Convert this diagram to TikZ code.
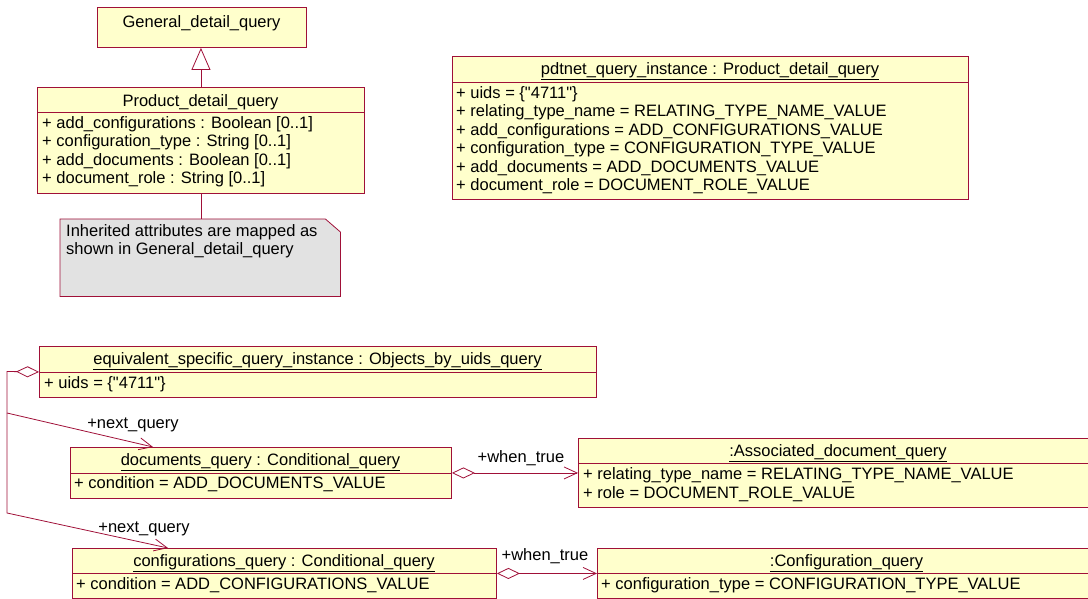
\documentclass[tikz,border=0pt]{standalone}
\usepackage{fontspec}
\setmainfont{Liberation Sans}[Ligatures=TeXOff]
\usetikzlibrary{arrows.meta,calc}
\definecolor{umlred}{RGB}{160,16,56}
\definecolor{umlfill}{RGB}{255,255,204}
\definecolor{notefill}{RGB}{226,226,226}
\begin{document}
\begin{tikzpicture}[x=1pt,y=-1pt,
  font=\fontsize{16.5}{18.4}\selectfont,
  umlbox/.style={draw=umlred, fill=umlfill, line width=0.9pt, rectangle, inner sep=0pt, anchor=north west},
  notebox/.style={rectangle, inner sep=0pt, anchor=north west},
  divline/.style={draw=umlred, line width=0.9pt},
  txt/.style={inner sep=0pt, anchor=base west, text=black},
  hdr/.style={inner sep=0pt, anchor=base, text=black},
  conn/.style={draw=umlred, line width=0.8pt},
  openarrow/.style={conn, -{Straight Barb[length=13pt,width=12pt]}},
  aggr/.style={conn, {Diamond[fill=white,length=23pt,width=11pt]}-},
  aggrarrow/.style={conn, {Diamond[fill=white,length=23pt,width=11pt]}-{Straight Barb[length=13pt,width=12pt]}},
  genarrow/.style={conn, -{Triangle[fill=white,length=22pt,width=19pt]}}
]
\useasboundingbox (0,0) rectangle (1088,599);
\clip (0,0) rectangle (1088,599);

% ---------- boxes ----------
\node[umlbox, minimum width=209pt, minimum height=40pt] (gen) at (97,7) {};
\node[umlbox, minimum width=327pt, minimum height=106pt] (prod) at (37,87) {};
\draw[divline] (prod.west |- 0,112) -- (prod.east |- 0,112);

\node[notebox, minimum width=280pt, minimum height=77pt] (note) at (60,219) {};
\draw[conn, fill=notefill] (note.north west) -- ($(note.north east)+(-15,0)$) -- ($(note.north east)+(0,13)$) -- (note.south east) -- (note.south west) -- cycle;

\node[umlbox, minimum width=516pt, minimum height=143pt] (pdt) at (452,56) {};
\draw[divline] (pdt.west |- 0,82) -- (pdt.east |- 0,82);

\node[umlbox, minimum width=557pt, minimum height=51pt] (esq) at (39,346) {};
\draw[divline] (esq.west |- 0,372) -- (esq.east |- 0,372);

\node[umlbox, minimum width=381pt, minimum height=51pt] (docs) at (70,447) {};
\draw[divline] (docs.west |- 0,473) -- (docs.east |- 0,473);

\node[umlbox, minimum width=520pt, minimum height=69pt] (assoc) at (578,438) {};
\draw[divline] (assoc.west |- 0,463) -- (assoc.east |- 0,463);

\node[umlbox, minimum width=424pt, minimum height=50pt] (confq) at (72,548) {};
\draw[divline] (confq.west |- 0,573) -- (confq.east |- 0,573);

\node[umlbox, minimum width=500pt, minimum height=50pt] (conf) at (597,548) {};
\draw[divline] (conf.west |- 0,573) -- (conf.east |- 0,573);

% ---------- texts ----------
\node[hdr] (g0) at (201.5,27.5) {General\_detail\_query};

\node[hdr] (p0) at (200.5,106.5) {Product\_detail\_query};
\node[txt] (p1) at (42,128.5) {+ add\_configurations : Boolean [0..1]};
\node[txt] (p2) at (42,146.5) {+ configuration\_type : String [0..1]};
\node[txt] (p3) at (42,165.5) {+ add\_documents : Boolean [0..1]};
\node[txt] (p4) at (42,183.5) {+ document\_role : String [0..1]};

\node[txt] (n1) at (66,236.5) {Inherited attributes are mapped as};
\node[txt] (n2) at (66,254.5) {shown in General\_detail\_query};

\node[hdr] (d0) at (710,74.5) {\underline{pdtnet\_query\_instance : Product\_detail\_query}};
\node[txt] (d1) at (456,98.5) {+ uids = \{"4711"\}};
\node[txt] (d2) at (456,116.5) {+ relating\_type\_name = RELATING\_TYPE\_NAME\_VALUE};
\node[txt] (d3) at (456,135.5) {+ add\_configurations = ADD\_CONFIGURATIONS\_VALUE};
\node[txt] (d4) at (456,153.5) {+ configuration\_type = CONFIGURATION\_TYPE\_VALUE};
\node[txt] (d5) at (456,172.5) {+ add\_documents = ADD\_DOCUMENTS\_VALUE};
\node[txt] (d6) at (456,190.5) {+ document\_role = DOCUMENT\_ROLE\_VALUE};

\node[hdr] (e0) at (317.5,364.5) {\underline{equivalent\_specific\_query\_instance : Objects\_by\_uids\_query}};
\node[txt] (e1) at (44,388.5) {+ uids = \{"4711"\}};

\node[hdr] (q0) at (260.5,465.5) {\underline{documents\_query : Conditional\_query}};
\node[txt] (q1) at (74,488.5) {+ condition = ADD\_DOCUMENTS\_VALUE};

\node[hdr] (a0) at (838,456.5) {\underline{:Associated\_document\_query}};
\node[txt] (a1) at (583,479.5) {+ relating\_type\_name = RELATING\_TYPE\_NAME\_VALUE};
\node[txt] (a2) at (583,498.5) {+ role = DOCUMENT\_ROLE\_VALUE};

\node[hdr] (c0) at (284,566.5) {\underline{configurations\_query : Conditional\_query}};
\node[txt] (c1) at (76,589.5) {+ condition = ADD\_CONFIGURATIONS\_VALUE};

\node[hdr] (f0) at (846.5,566.5) {\underline{:Configuration\_query}};
\node[txt] (f1) at (601,589.5) {+ configuration\_type = CONFIGURATION\_TYPE\_VALUE};

% ---------- connectors ----------
\draw[genarrow] (prod.north) -- (prod.north |- gen.south);
\draw[conn] (prod.south) -- (prod.south |- note.north);

\coordinate (k1) at (7,371.5);
\coordinate (k2) at (7,413);
\coordinate (k3) at (7,513);
\coordinate (t1) at (153,447);
\coordinate (t2) at (168,548);
\draw[aggr] (esq.west) -- (k1) -- (k2);
\draw[openarrow] (k2) -- (t1);
\draw[openarrow] (k2) -- (k3) -- (t2);

\draw[aggrarrow] (docs.east) -- (assoc.west);
\draw[aggrarrow] (confq.east) -- (conf.west);

% ---------- connector labels ----------
\node[hdr] (l1) at (133,428.5) {+next\_query};
\node[hdr] (l2) at (144,532.5) {+next\_query};
\node[hdr] (l3) at (521,462.5) {+when\_true};
\node[hdr] (l4) at (545,560.5) {+when\_true};
\end{tikzpicture}
\end{document}
